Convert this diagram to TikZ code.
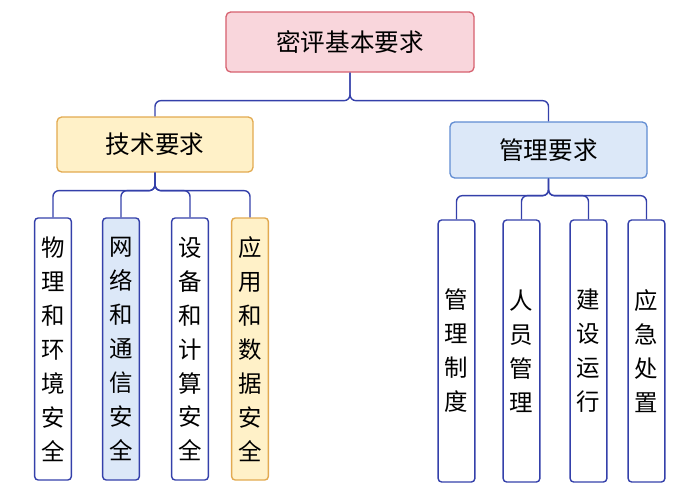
\documentclass[tikz,border=0pt]{standalone}
\usepackage{fontspec}
\setmainfont{Noto Sans CJK SC}
\usetikzlibrary{positioning}
\definecolor{linkblue}{RGB}{52,64,170}
\definecolor{rootred}{RGB}{214,96,110}
\definecolor{rootfill}{RGB}{249,214,220}
\definecolor{techline}{RGB}{226,170,80}
\definecolor{techfill}{RGB}{255,241,200}
\definecolor{mgmtline}{RGB}{96,140,210}
\definecolor{mgmtfill}{RGB}{220,232,248}

\begin{document}
\begin{tikzpicture}[
    x=0.03cm, y=-0.03cm,
    head/.style={rectangle, rounded corners=4pt, line width=1.1pt, font=\fontsize{21}{25}\selectfont},
    leaf/.style={rectangle, rounded corners=3pt, draw=linkblue, line width=1.2pt, minimum width=1.1cm, minimum height=7.86cm, align=center, font=\fontsize{20}{29}\selectfont},
    conn/.style={linkblue, line width=1.2pt, rounded corners=5pt}
]
    \useasboundingbox (0,0) rectangle (685,500);
    \node[head, draw=rootred, fill=rootfill, minimum width=7.44cm, minimum height=1.8cm] (root) at (350,42) {密评基本要求};
    \node[head, draw=techline, fill=techfill, minimum width=5.88cm, minimum height=1.65cm] (tech) at (155,144.5) {技术要求};
    \node[head, draw=mgmtline, fill=mgmtfill, minimum width=5.91cm, minimum height=1.68cm] (mgmt) at (548.5,150) {管理要求};

    \node[leaf] (phys) at (53,349) {物\\理\\和\\环\\境\\安\\全};
    \node[leaf, fill=mgmtfill] (net) at (121,349) {网\\络\\和\\通\\信\\安\\全};
    \node[leaf] (dev) at (190,349) {设\\备\\和\\计\\算\\安\\全};
    \node[leaf, fill=techfill, draw=techline] (app) at (250,349) {应\\用\\和\\数\\据\\安\\全};

    \node[leaf] (inst) at (456.5,351) {管\\理\\制\\度};
    \node[leaf] (staff) at (521.5,351) {人\\员\\管\\理};
    \node[leaf] (build) at (588.5,351) {建\\设\\运\\行};
    \node[leaf] (emerg) at (646.5,351) {应\\急\\处\\置};

    \draw[conn] (root.south) -- +(0,28) -| (tech.north);
    \draw[conn] (root.south) -- +(0,28) -| (mgmt.north);
    \foreach \c in {phys,net,dev,app}
        \draw[conn] (tech.south) -- +(0,18) -| (\c.north);
    \foreach \c in {inst,staff,build,emerg}
        \draw[conn] (mgmt.south) -- +(0,17) -| (\c.north);
\end{tikzpicture}
\end{document}
